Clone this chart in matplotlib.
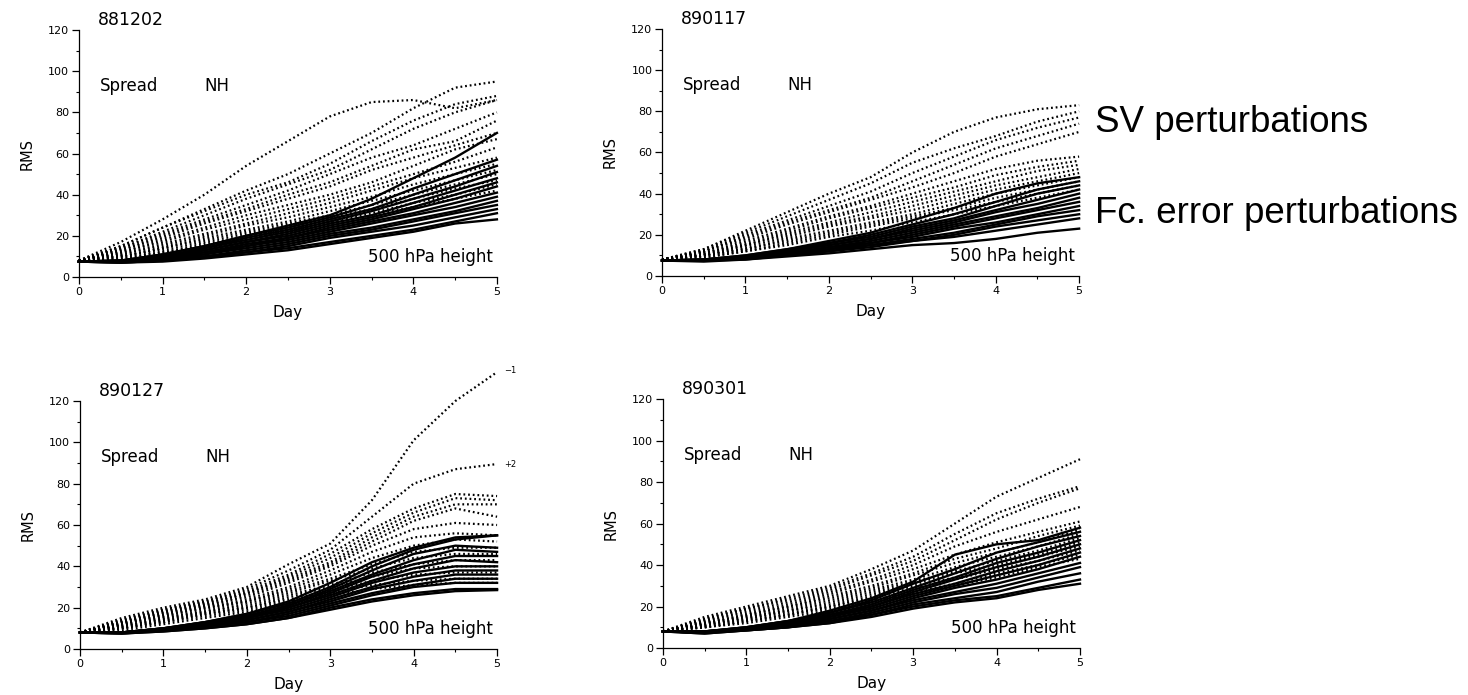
import numpy as np
import matplotlib.pyplot as plt
from matplotlib.ticker import MultipleLocator

DAYS = [0, 0.5, 1, 1.5, 2, 2.5, 3, 3.5, 4, 4.5, 5]

# SV perturbations (dotted), values at DAYS
SV_881202 = [
    [8, 17, 28, 40, 54, 66, 78, 85, 86, 82, 86],
    [8, 15, 24, 33, 42, 50, 60, 70, 82, 92, 95],
    [8, 15, 24, 32, 40, 46, 55, 66, 76, 84, 88],
    [8, 14, 22, 30, 38, 45, 52, 62, 72, 80, 86],
    [8, 14, 21, 28, 35, 42, 50, 58, 64, 72, 80],
    [8, 13, 20, 27, 33, 40, 46, 54, 62, 66, 76],
    [8, 13, 19, 26, 32, 38, 44, 52, 58, 64, 70],
    [8, 12, 18, 24, 30, 35, 40, 46, 54, 62, 67],
    [8, 12, 17, 23, 28, 33, 38, 44, 50, 56, 63],
    [8, 11, 16, 21, 26, 31, 36, 42, 48, 53, 58],
    [8, 11, 15, 20, 25, 29, 34, 39, 45, 50, 55],
    [8, 10, 14, 19, 23, 27, 32, 37, 42, 47, 52],
    [8, 10, 14, 18, 22, 26, 30, 35, 40, 45, 50],
    [8, 10, 13, 17, 21, 25, 29, 33, 38, 43, 47],
    [8, 9, 12, 16, 20, 23, 27, 31, 36, 40, 45],
    [8, 9, 12, 15, 19, 22, 26, 30, 34, 38, 42],
]
# forecast error perturbations (solid)
FC_881202 = [
    [7.5, 8, 11, 15, 20, 25, 30, 38, 48, 58, 70],
    [7.5, 8, 11, 15, 20, 24, 29, 35, 43, 50, 57],
    [7.5, 8, 10, 14, 19, 23, 28, 33, 40, 47, 54],
    [7.5, 8, 10, 14, 18, 22, 27, 32, 38, 44, 51],
    [7.5, 7.5, 10, 13, 17, 21, 26, 30, 36, 42, 48],
    [7.5, 7.5, 9, 13, 17, 20, 25, 29, 34, 40, 46],
    [7.5, 7.5, 9, 12, 16, 19, 24, 28, 33, 38, 44],
    [7.5, 7.5, 9, 12, 15, 19, 23, 27, 31, 36, 41],
    [7.5, 7.5, 9, 11, 15, 18, 22, 26, 30, 34, 39],
    [7.5, 7.5, 8.5, 11, 14, 17, 21, 24, 28, 32, 37],
    [7.5, 7.5, 8.5, 10, 13, 16, 20, 23, 27, 31, 35],
    [7.5, 7, 8, 10, 12, 15, 19, 22, 25, 29, 33],
    [7.5, 7, 8, 9.5, 12, 14, 17, 20, 23, 27, 31],
    [7.5, 7, 7.5, 9, 11, 13, 16, 19, 22, 26, 28],
]

SV_890117 = [
    [8, 13, 22, 31, 40, 48, 60, 70, 77, 81, 83],
    [8, 13, 21, 29, 37, 45, 55, 62, 68, 75, 80],
    [8, 12, 20, 27, 34, 41, 50, 58, 66, 72, 77],
    [8, 12, 19, 26, 32, 38, 46, 54, 62, 68, 74],
    [8, 12, 18, 25, 31, 37, 43, 50, 58, 64, 70],
    [8, 11, 17, 23, 29, 34, 40, 46, 52, 56, 58],
    [8, 11, 16, 22, 28, 33, 38, 43, 49, 53, 56],
    [8, 11, 15, 21, 26, 31, 36, 41, 46, 51, 54],
    [8, 10, 15, 20, 25, 29, 34, 39, 44, 48, 52],
    [8, 10, 14, 19, 24, 28, 32, 37, 42, 46, 50],
    [8, 10, 13, 18, 22, 26, 30, 35, 40, 44, 48],
    [8, 10, 13, 17, 21, 25, 29, 33, 38, 42, 46],
    [8, 9, 12, 16, 20, 24, 28, 32, 36, 40, 44],
    [8, 9, 12, 15, 19, 22, 26, 30, 34, 38, 42],
]
FC_890117 = [
    [7.5, 8, 10, 13, 17, 21, 27, 33, 40, 45, 48],
    [7.5, 8, 10, 13, 16, 20, 25, 30, 36, 42, 46],
    [7.5, 8, 9.5, 12, 16, 19, 24, 28, 34, 40, 44],
    [7.5, 8, 9.5, 12, 15, 18, 23, 27, 32, 37, 42],
    [7.5, 7.5, 9, 12, 15, 18, 22, 26, 31, 35, 40],
    [7.5, 7.5, 9, 11, 14, 17, 21, 25, 29, 33, 38],
    [7.5, 7.5, 9, 11, 14, 16, 20, 24, 28, 32, 36],
    [7.5, 7.5, 8.5, 11, 13, 16, 19, 23, 26, 30, 34],
    [7.5, 7.5, 8.5, 10, 13, 15, 18, 21, 25, 29, 32],
    [7.5, 7.5, 8.5, 10, 12, 15, 17, 20, 24, 27, 30],
    [7.5, 7.5, 8, 10, 12, 14, 17, 19, 22, 25, 28],
    [7.5, 7, 8, 9.5, 11, 13, 15, 16, 18, 21, 23],
]

SV_890127 = [
    [8, 15, 20, 24, 30, 41, 51, 72, 101, 120, 134],
    [8, 14, 19, 23, 29, 38, 48, 64, 80, 87, 89.5],
    [8, 14, 19, 23, 28, 36, 46, 58, 68, 75, 74],
    [8, 13, 18, 22, 27, 35, 44, 56, 66, 73, 72],
    [8, 13, 18, 22, 27, 34, 42, 54, 64, 70, 70],
    [8, 13, 17, 21, 26, 33, 41, 52, 62, 68, 64],
    [8, 12, 17, 21, 25, 32, 40, 50, 58, 61, 60],
    [8, 12, 16, 20, 24, 30, 38, 47, 54, 56, 55],
    [8, 12, 16, 20, 23, 29, 36, 44, 50, 53, 52],
    [8, 11, 15, 19, 23, 28, 34, 41, 47, 49, 49],
    [8, 11, 15, 18, 22, 27, 33, 39, 44, 46, 46],
    [8, 11, 14, 18, 21, 26, 31, 37, 41, 43, 43],
    [8, 10, 14, 17, 20, 25, 30, 35, 39, 40, 40],
    [8, 10, 13, 17, 20, 24, 28, 33, 36, 37, 37],
    [8, 10, 13, 16, 19, 23, 27, 31, 33, 34, 34],
    [8, 9, 12, 15, 18, 22, 26, 29, 31, 32, 32],
]
FC_890127 = [
    [8, 8, 10, 13, 17, 23, 32, 42, 49, 54, 55],
    [8, 8, 10, 13, 17, 22, 30, 40, 48, 53, 55],
    [8, 8, 10, 13, 16, 21, 29, 38, 46, 50, 49],
    [8, 8, 10, 12, 16, 21, 28, 36, 43, 48, 47],
    [8, 8, 9.5, 12, 15, 20, 27, 35, 41, 45, 45],
    [8, 8, 9.5, 12, 15, 20, 26, 33, 39, 43, 42],
    [8, 8, 9.5, 12, 15, 19, 25, 32, 37, 40, 40],
    [8, 8, 9, 11, 14, 18, 24, 30, 35, 38, 38],
    [8, 8, 9, 11, 14, 18, 23, 29, 33, 36, 36],
    [8, 8, 9, 11, 13, 17, 22, 27, 31, 34, 34],
    [8, 7.5, 9, 11, 13, 16, 21, 26, 30, 32, 32],
    [8, 7.5, 8.5, 10, 12, 15, 20, 24, 27, 29, 29],
    [8, 7.5, 8.5, 10, 12, 15, 19, 23, 26, 28, 28.5],
]

SV_890301 = [
    [8, 15, 20, 25, 30, 38, 47, 60, 73, 82, 91],
    [8, 14, 19, 24, 29, 36, 44, 55, 65, 72, 78],
    [8, 14, 19, 23, 28, 35, 42, 52, 62, 70, 77],
    [8, 13, 18, 22, 27, 33, 40, 49, 56, 62, 68],
    [8, 13, 17, 21, 26, 32, 38, 45, 51, 56, 61],
    [8, 12, 16, 20, 25, 30, 36, 43, 48, 54, 59],
    [8, 12, 16, 20, 24, 29, 35, 41, 46, 51, 57],
    [8, 12, 15, 19, 23, 28, 33, 39, 44, 49, 55],
    [8, 11, 15, 18, 22, 27, 32, 37, 42, 47, 53],
    [8, 11, 14, 18, 21, 26, 31, 36, 40, 45, 51],
    [8, 11, 14, 17, 20, 25, 30, 34, 39, 44, 49],
    [8, 10, 13, 16, 20, 24, 29, 33, 38, 42, 47],
    [8, 10, 13, 16, 19, 23, 27, 31, 36, 40, 45],
    [8, 10, 12, 15, 18, 22, 26, 30, 34, 39, 43],
]
FC_890301 = [
    [8, 8, 10, 13, 18, 24, 32, 45, 50, 52, 58],
    [8, 8, 10, 13, 17, 23, 31, 38, 46, 51, 56],
    [8, 8, 10, 13, 17, 22, 29, 36, 43, 49, 54],
    [8, 8, 9.5, 12, 16, 21, 28, 34, 41, 46, 52],
    [8, 8, 9.5, 12, 16, 20, 27, 33, 39, 44, 50],
    [8, 7.5, 9.5, 12, 15, 20, 26, 31, 37, 42, 48],
    [8, 7.5, 9, 11, 15, 19, 25, 30, 35, 40, 46],
    [8, 7.5, 9, 11, 14, 18, 24, 29, 33, 38, 44],
    [8, 7.5, 9, 11, 14, 18, 23, 27, 31, 36, 41],
    [8, 7.5, 9, 11, 13, 17, 22, 26, 29, 34, 39],
    [8, 7.5, 8.5, 10, 13, 16, 21, 24, 27, 32, 36],
    [8, 7, 8.5, 10, 12, 16, 20, 23, 25, 29, 33],
    [8, 7, 8.5, 10, 12, 15, 19, 22, 24, 28, 31],
]

CASES = ["881202", "890117", "890127", "890301"]
SV_DATA = [SV_881202, SV_890117, SV_890127, SV_890301]
FC_DATA = [FC_881202, FC_890117, FC_890127, FC_890301]

# axes boxes in figure fraction [left, bottom, width, height]
AXES_POS = [
    [0.0538, 0.6014, 0.2847, 0.3554],
    [0.4510, 0.6029, 0.2841, 0.3554],
    [0.0545, 0.0662, 0.2841, 0.3568],
    [0.4516, 0.0676, 0.2841, 0.3582],
]

plt.rcParams["font.family"] = ["DejaVu Sans"]

fig = plt.figure(figsize=(14.68, 6.95), dpi=100)

for case, sv_lines, fc_lines, pos in zip(CASES, SV_DATA, FC_DATA, AXES_POS):
    ax = fig.add_axes(pos)

    for vals in sv_lines:
        ax.plot(DAYS, vals, color="black", linewidth=1.6,
                linestyle=(0, (0.8, 1.3)), clip_on=False)
    for vals in fc_lines:
        ax.plot(DAYS, vals, color="black", linewidth=1.7,
                linestyle="-", clip_on=False)

    ax.set_xlim(0, 5)
    ax.set_ylim(0, 120)
    ax.spines["top"].set_visible(False)
    ax.spines["right"].set_visible(False)
    ax.spines["left"].set_linewidth(0.9)
    ax.spines["bottom"].set_linewidth(0.9)

    ax.xaxis.set_major_locator(MultipleLocator(1))
    ax.xaxis.set_minor_locator(MultipleLocator(0.5))
    ax.yaxis.set_major_locator(MultipleLocator(20))
    ax.yaxis.set_minor_locator(MultipleLocator(10))
    ax.tick_params(which="major", length=5, width=0.9, labelsize=8, pad=2)
    ax.tick_params(which="minor", length=2.5, width=0.8)

    ax.set_xlabel("Day", fontsize=11, labelpad=6)
    ax.set_ylabel("RMS", fontsize=10.5, labelpad=10)

    ax.text(0.23, 125, case, fontsize=12.5, va="center", ha="left", clip_on=False)
    ax.text(0.25, 93, "Spread", fontsize=12, va="center", ha="left")
    ax.text(1.5, 93, "NH", fontsize=12, va="center", ha="left")
    ax.text(4.95, 9.5, "500 hPa height", fontsize=12, va="center", ha="right")

    if case == "890127":
        ax.text(5.08, 135, "\u22121", fontsize=6, va="center", ha="left", clip_on=False)
        ax.text(5.08, 89.5, "+2", fontsize=6, va="center", ha="left", clip_on=False)

fig.text(0.746, 0.810, "SV perturbations", fontsize=26.5,
         family=["Liberation Sans", "DejaVu Sans"], va="baseline", ha="left")
fig.text(0.746, 0.679, "Fc. error perturbations", fontsize=26.5,
         family=["Liberation Sans", "DejaVu Sans"], va="baseline", ha="left")

fig.savefig("out.png", dpi=100, facecolor="white")
